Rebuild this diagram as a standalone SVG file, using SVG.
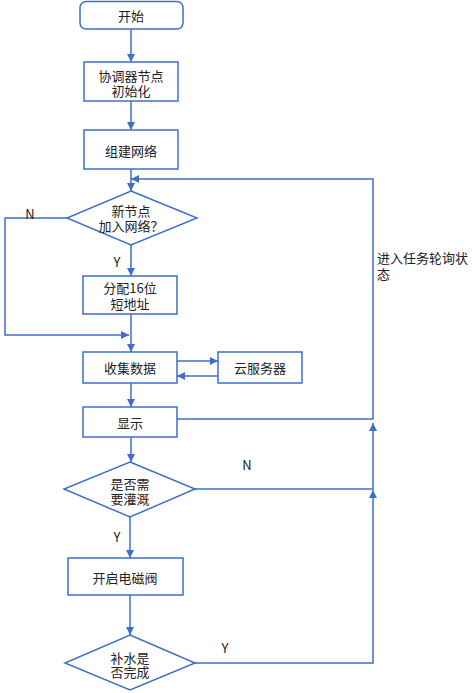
<svg xmlns="http://www.w3.org/2000/svg" width="472" height="693" viewBox="0 0 472 693">
<defs>
<marker id="ah" viewBox="0 0 10 10" refX="10" refY="5" markerWidth="8" markerHeight="8" markerUnits="userSpaceOnUse" orient="auto">
<path d="M0,0 L10,5 L0,10 Z" fill="#3F6FC8"/>
</marker>
<style>
.n{fill:#fff;stroke:#3F6FC8;stroke-width:1.5}
.c{fill:none;stroke:#3F6FC8;stroke-width:1.5}
.a{marker-end:url(#ah)}
text{font-family:"Noto Sans CJK SC","Liberation Sans",sans-serif;font-size:13px;fill:#222;text-anchor:middle;dominant-baseline:central}
.l{text-anchor:start}
</style>
</defs>
<g id="connectors">
<path class="c a" d="M131,29 V62"/>
<path class="c a" d="M131,101 V130"/>
<path class="c a" d="M131,169 V191"/>
<path class="c a" d="M131,245 V276"/>
<path class="c a" d="M131,314 V352"/>
<path class="c a" d="M67,218 H5 V335 H129"/>
<path class="c a" d="M177,361 H218"/>
<path class="c a" d="M218,376 H177"/>
<path class="c a" d="M131,383 V407"/>
<path class="c a" d="M177,419 H373 V179 H131"/>
<path class="c a" d="M131,437 V462"/>
<path class="c a" d="M195,489 H373 V423"/>
<path class="c a" d="M130,517 V558"/>
<path class="c a" d="M130,595 V635"/>
<path class="c a" d="M195,663 H373 V490"/>
<text x="30" y="213">N</text>
<text x="117" y="261">Y</text>
<text x="247" y="464">N</text>
<text x="117" y="536">Y</text>
<text x="225" y="647">Y</text>
<text class="l" x="377" y="257">进入任务轮询状<tspan x="377" dy="16">态</tspan></text>
</g>
<g id="start"><rect class="n" x="80" y="1.5" width="103" height="27.5" rx="6"/><text x="131" y="15">开始</text></g>
<g id="init"><rect class="n" x="84" y="62" width="94" height="39"/><text x="131" y="75">协调器节点<tspan x="131" dy="15">初始化</tspan></text></g>
<g id="build"><rect class="n" x="84" y="130" width="94" height="39"/><text x="131" y="150">组建网络</text></g>
<g id="newnode"><polygon class="n" points="131,191 197,218 131,245 67,218"/><text x="131" y="210">新节点<tspan x="131" dy="15">加入网络？</tspan></text></g>
<g id="assign"><rect class="n" x="83" y="276" width="94" height="38"/><text x="130" y="287">分配16位<tspan x="130" dy="16">短地址</tspan></text></g>
<g id="collect"><rect class="n" x="83" y="352" width="94" height="31"/><text x="130" y="367">收集数据</text></g>
<g id="cloud"><rect class="n" x="218" y="352" width="84" height="31"/><text x="260" y="367">云服务器</text></g>
<g id="display"><rect class="n" x="83" y="407" width="94" height="30"/><text x="130" y="422">显示</text></g>
<g id="irrigate"><polygon class="n" points="130,462 195,489 130,517 64,489"/><text x="130" y="483">是否需<tspan x="130" dy="15">要灌溉</tspan></text></g>
<g id="valve"><rect class="n" x="68" y="558" width="115" height="37"/><text x="125" y="577">开启电磁阀</text></g>
<g id="done"><polygon class="n" points="130,635 195,663 130,690 65,663"/><text x="130" y="657">补水是<tspan x="130" dy="14">否完成</tspan></text></g>
</svg>
